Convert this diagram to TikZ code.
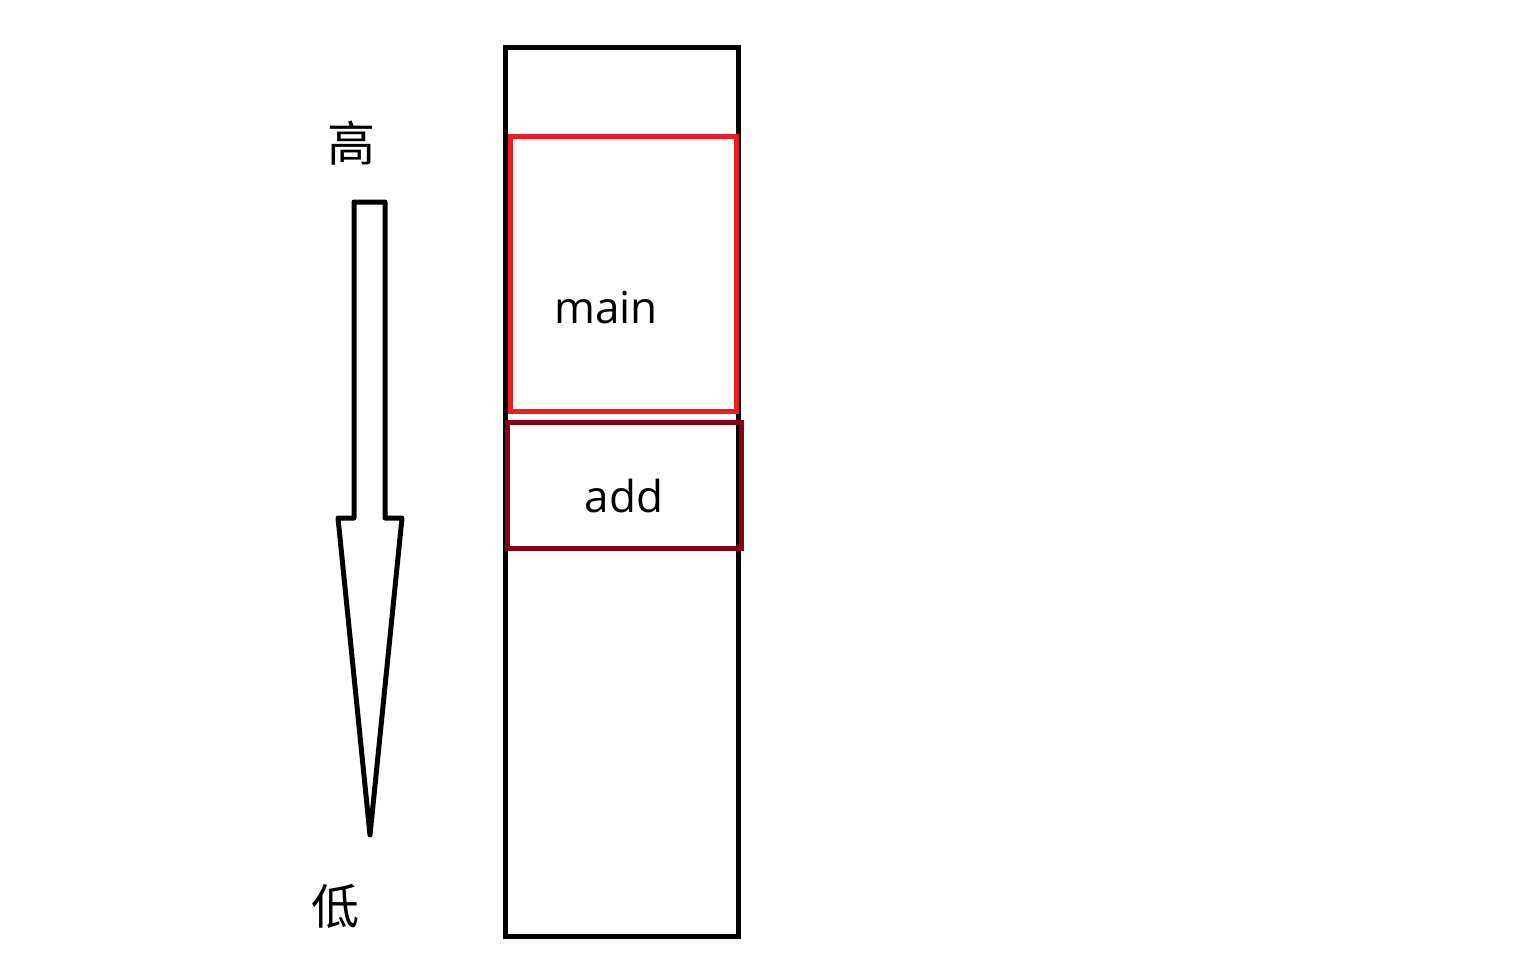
\documentclass[tikz,border=0pt]{standalone}
\usepackage{fontspec}
\setmainfont{Open Sans}
\newfontfamily\cjk{Noto Sans CJK SC}
\definecolor{bred}{HTML}{ED1C24}
\definecolor{dred}{HTML}{880015}
\begin{document}
\begin{tikzpicture}[x=0.5pt,y=-0.5pt,
  frame/.style={line width=2.5pt},
  lbl/.style={font=\fontsize{22}{24}\selectfont, inner sep=0pt},
  cjklbl/.style={font=\cjk\fontsize{24}{26}\selectfont, inner sep=0pt}]
\useasboundingbox (0,0) rectangle (1536,960);
\draw[frame] (505,47) rectangle (738,936);
\draw[frame, bred] (510,136) rectangle (736,411);
\draw[frame, dred] (507,422) rectangle (741,548);
\node[lbl] (main) at (606,308) {main};
\node[lbl] (add) at (624,496) {add};
\draw[frame, line join=round] (354,518) -- (354,202) -- (385,202) -- (385,518) -- (402,518) -- (370,835) -- (338,518) -- cycle;
\node[cjklbl] (hi) at (351,143) {高};
\node[cjklbl] (lo) at (335,906) {低};
\end{tikzpicture}
\end{document}
